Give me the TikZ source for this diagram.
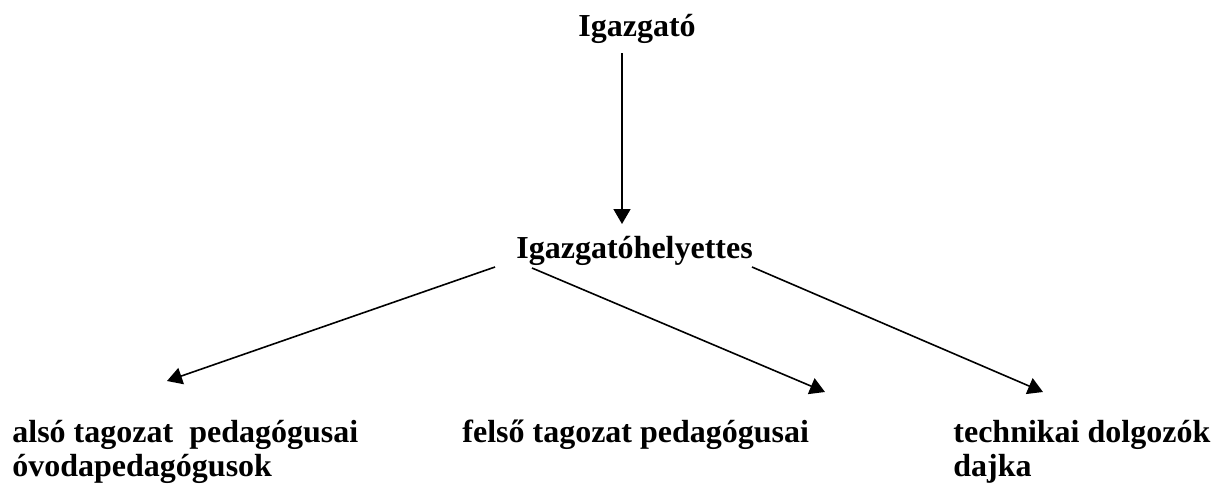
\documentclass[tikz,border=0pt]{standalone}
\usepackage{fontspec}
\setmainfont{Liberation Serif}
\usetikzlibrary{arrows.meta,calc}
\begin{document}
\begin{tikzpicture}
			[x=0.5pt, y=-0.5pt,
			every node/.style = {inner sep=0pt, align=left, font=\fontsize{16}{17}\selectfont\bfseries},
			link/.style = {line width=0.8pt, -{Triangle[length=7.5pt, width=8.5pt]}}]
			\useasboundingbox (0,0) rectangle (1223,487);
			\node[anchor=base] (igazgato) at (637,36) {Igazgató};
			\node[anchor=base west] (helyettes) at (516,258) {Igazgatóhelyettes};
			\node[anchor=base west] (also) at (12,476) {alsó tagozat\ \ pedagógusai\\óvodapedagógusok};
			\node[anchor=base west] (felso) at (462,442) {felső tagozat pedagógusai};
			\node[anchor=base west] (technikai) at (953,476) {technikai dolgozók\\dajka};
			\draw[link] ($(igazgato.base)+(-15,17)$) -- ($(helyettes.base west)+(106,-34)$);
			\draw[link] ($(helyettes.base west)+(-21,9)$) -- ($(also.base west)+(155,-95)$);
			\draw[link] ($(helyettes.base west)+(16,10)$) -- ($(felso.base west)+(363,-50)$);
			\draw[link] ($(helyettes.base west)+(236,9)$) -- ($(technikai.base west)+(90,-84)$);
		\end{tikzpicture}
\end{document}
